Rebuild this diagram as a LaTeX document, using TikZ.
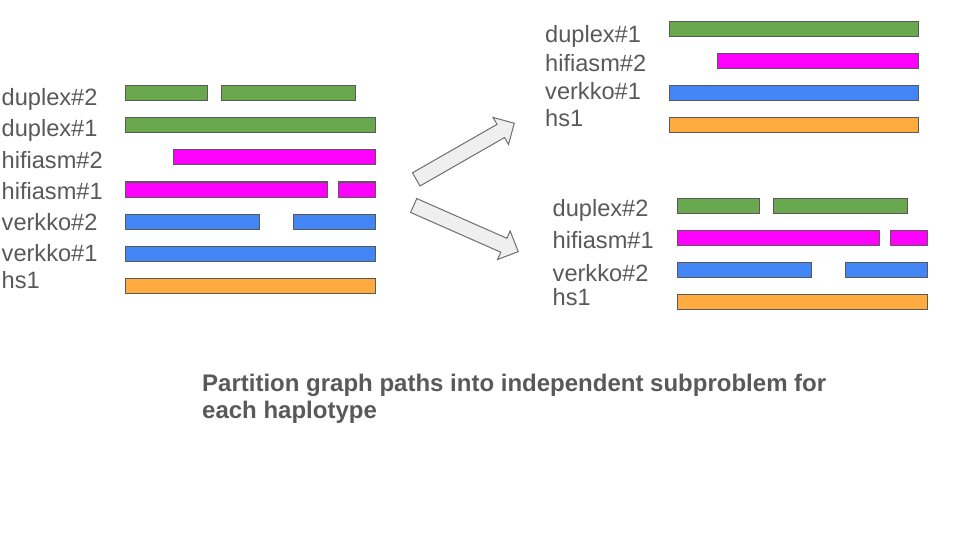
\documentclass[tikz,border=0pt]{standalone}
\usepackage{fontspec}
\setmainfont{Liberation Sans}
\definecolor{txtgray}{HTML}{595959}
\definecolor{edgegray}{HTML}{595959}
\definecolor{dupgreen}{HTML}{6AA84F}
\definecolor{hifipink}{HTML}{FF00FF}
\definecolor{verkblue}{HTML}{4285F4}
\definecolor{hsorange}{HTML}{FFAB40}
\definecolor{arrfill}{HTML}{EFEFEF}
\definecolor{arredge}{HTML}{6E6E6E}
\tikzset{
	bar/.style={draw=edgegray, line width=1pt},
	lbl/.style={anchor=base west, inner sep=0pt, text=txtgray, font=\fontsize{23.6}{28}\selectfont},
	title/.style={anchor=base west, inner sep=0pt, text=txtgray, font=\fontsize{24}{28}\selectfont\bfseries},
	blockarrow/.style={fill=arrfill, draw=arredge, line width=1pt, line join=miter}
}
\begin{document}
\begin{tikzpicture}[x=1pt,y=-1pt]
		\useasboundingbox (0,0) rectangle (960,540);
		% all paths
		\node[lbl] (ld2) at (1.5,105.5) {duplex\#2};
		\node[lbl] (ld1) at (1.5,136.8) {duplex\#1};
		\node[lbl] (lh2) at (1.5,168) {hifiasm\#2};
		\node[lbl] (lh1) at (1.5,199.2) {hifiasm\#1};
		\node[lbl] (lv2) at (1.5,230.4) {verkko\#2};
		\node[lbl] (lv1) at (1.5,261.5) {verkko\#1};
		\node[lbl] (lhs) at (1.5,288.3) {hs1};
		\draw[bar,fill=dupgreen] (125.5,86) rectangle (207.5,101) (221.5,86) rectangle (355.5,101);
		\draw[bar,fill=dupgreen] (125.5,118) rectangle (375.5,133);
		\draw[bar,fill=hifipink] (173.5,150) rectangle (375.5,165);
		\draw[bar,fill=hifipink] (125.5,182) rectangle (327.5,197) (338.5,182) rectangle (375.5,197);
		\draw[bar,fill=verkblue] (125.5,214) rectangle (259.5,229) (293.5,214) rectangle (375.5,229);
		\draw[bar,fill=verkblue] (125.5,246) rectangle (375.5,261);
		\draw[bar,fill=hsorange] (125.5,278) rectangle (375.5,293);
		% split arrows
		\begin{scope}[shift={(416.2,179.4)},rotate=29.8]
			\draw[blockarrow] (0,-7.6) -- (97.5,-7.6) -- (97.5,-15.6) -- (113,0) -- (97.5,15.6) -- (97.5,7.6) -- (0,7.6) -- cycle;
		\end{scope}
		\begin{scope}[shift={(413.7,205.5)},rotate=-23.8]
			\draw[blockarrow] (0,-7.6) -- (98.5,-7.6) -- (98.5,-15.6) -- (114.3,0) -- (98.5,15.6) -- (98.5,7.6) -- (0,7.6) -- cycle;
		\end{scope}
		% haplotype 1
		\node[lbl] (ad1) at (545,42.3) {duplex\#1};
		\node[lbl] (ah2) at (545,71.2) {hifiasm\#2};
		\node[lbl] (av1) at (545,100) {verkko\#1};
		\node[lbl] (ahs) at (545,126.7) {hs1};
		\draw[bar,fill=dupgreen] (669.5,22) rectangle (918.5,37);
		\draw[bar,fill=hifipink] (717.5,54) rectangle (918.5,69);
		\draw[bar,fill=verkblue] (669.5,86) rectangle (918.5,101);
		\draw[bar,fill=hsorange] (669.5,118) rectangle (918.5,133);
		% haplotype 2
		\node[lbl] (bd2) at (552.5,216.7) {duplex\#2};
		\node[lbl] (bh1) at (552.5,248.3) {hifiasm\#1};
		\node[lbl] (bv2) at (552.5,281.3) {verkko\#2};
		\node[lbl] (bhs) at (552.5,305) {hs1};
		\draw[bar,fill=dupgreen] (677.5,198) rectangle (759.5,213) (773.5,198) rectangle (907.5,213);
		\draw[bar,fill=hifipink] (677.5,230) rectangle (879.5,245) (890.5,230) rectangle (927.5,245);
		\draw[bar,fill=verkblue] (677.5,262) rectangle (811.5,277) (845.5,262) rectangle (927.5,277);
		\draw[bar,fill=hsorange] (677.5,294) rectangle (927.5,309);
		% caption
		\node[title] (cap1) at (202,391) {Partition graph paths into independent subproblem for};
		\node[title] (cap2) at (202,418.6) {each haplotype};
\end{tikzpicture}
\end{document}
